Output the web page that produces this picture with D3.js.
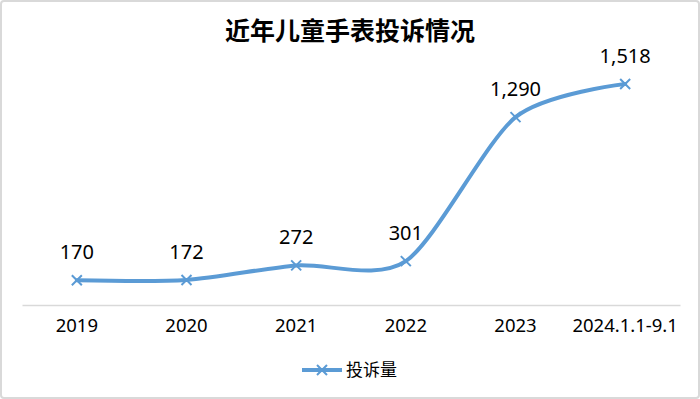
<!DOCTYPE html>
<html>
<head>
<meta charset="utf-8">
<script src="https://cdn.jsdelivr.net/npm/d3@7"></script>
<style>
  body { margin: 0; background: #fff; }
  text { font-family: 'Noto Sans', 'Noto Sans CJK SC', sans-serif; }
</style>
</head>
<body>
<div class="chart"></div>
<script>
const categories = ['2019', '2020', '2021', '2022', '2023', '2024.1.1-9.1']
const complaints = [170, 172, 272, 301, 1290, 1518]
const seriesName = '投诉量'
const title = '近年儿童手表投诉情况'

// SETUP
// ----------------------------
const fullWidth = 700
const fullHeight = 399
const margin = { top: 72, bottom: 94, left: 22, right: 20 }
const width = fullWidth - margin.left - margin.right
const height = fullHeight - margin.top - margin.bottom
const blue = '#5b9bd5'

const root = d3.select('.chart')
  .append('svg')
    .attr('width', fullWidth)
    .attr('height', fullHeight)

// outer frame
root.append('rect')
  .attr('x', 1).attr('y', 1)
  .attr('width', fullWidth - 2).attr('height', fullHeight - 2)
  .attr('rx', 3)
  .style('fill', '#fff')
  .style('stroke', '#d9d9d9')
  .style('stroke-width', 2)

root.append('text')
  .attr('x', fullWidth / 2)
  .attr('y', 40)
  .attr('text-anchor', 'middle')
  .style('font-size', '25px')
  .style('font-weight', 'bold')
  .style('font-family', "'Noto Sans CJK SC', sans-serif")
  .text(title)

const svg = root.append('g')
  .attr('transform', `translate(${margin.left}, ${margin.top})`)

// SCALES
// ----------------------------
const xScale = d3.scaleBand()
  .domain(categories)
  .range([0, width])
const yScale = d3.scaleLinear()
  .domain([0, 1600])
  .range([height, 0])
const cx = d => xScale(d) + xScale.bandwidth() / 2

// X AXIS
// ----------------------------
const xAxis = d3.axisBottom(xScale)
  .tickSize(0)
  .tickPadding(14)
const gx = svg.append('g')
  .attr('transform', `translate(0, ${height})`)
  .call(xAxis)
gx.select('.domain').style('stroke', '#d9d9d9').style('stroke-width', 1.5)
gx.selectAll('text')
  .style('font-size', '18.5px')
  .style('fill', '#000')
  .style('font-family', "'Noto Sans', sans-serif")

// LINE
// ----------------------------
const line = d3.line()
  .x((d, i) => cx(categories[i]))
  .y(d => yScale(d))
  .curve(d3.curveCardinal.tension(0.2))

svg.append('path')
  .datum(complaints)
  .attr('d', line)
  .style('fill', 'none')
  .style('stroke', blue)
  .style('stroke-width', 4)
  .style('stroke-linecap', 'round')

// markers
const m = 5
svg.selectAll('.marker')
  .data(complaints)
  .enter()
  .append('path')
  .attr('class', 'marker')
  .attr('transform', (d, i) => `translate(${cx(categories[i])}, ${yScale(d)})`)
  .attr('d', `M${-m},${-m}L${m},${m}M${-m},${m}L${m},${-m}`)
  .style('stroke', blue)
  .style('stroke-width', 2)

// value labels
svg.selectAll('.label')
  .data(complaints)
  .enter()
  .append('text')
  .attr('class', 'label')
  .attr('x', (d, i) => cx(categories[i]))
  .attr('y', d => yScale(d) - 21)
  .attr('text-anchor', 'middle')
  .style('font-size', '20px')
  .style('fill', '#000')
  .text(d => d3.format(',')(d))

// LEGEND
// ----------------------------
const legend = root.append('g')
  .attr('transform', 'translate(302, 370)')
legend.append('line')
  .attr('x1', 0).attr('x2', 40)
  .style('stroke', blue)
  .style('stroke-width', 4)
legend.append('path')
  .attr('transform', 'translate(20, 0)')
  .attr('d', `M${-m},${-m}L${m},${m}M${-m},${m}L${m},${-m}`)
  .style('stroke', blue)
  .style('stroke-width', 2)
legend.append('text')
  .attr('x', 44)
  .attr('y', 6)
  .style('font-size', '17px')
  .style('font-family', "'Noto Sans CJK SC', sans-serif")
  .text(seriesName)
</script>
</body>
</html>
